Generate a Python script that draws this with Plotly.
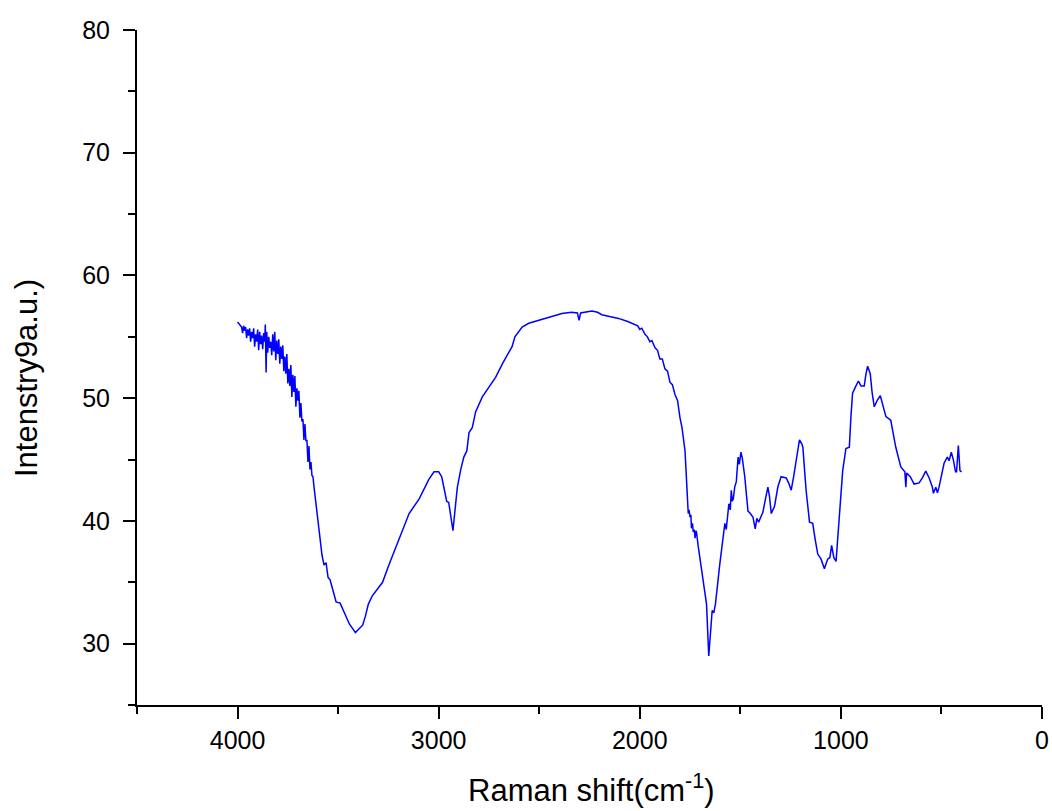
import plotly.graph_objects as go

# Raman shift (cm-1) and intensity values
shift = [4000, 3995, 3990, 3985, 3980, 3975, 3970, 3965, 3960, 3955, 3950, 3945, 3940, 3935,
         3930, 3925, 3920, 3915, 3910, 3905, 3900, 3895, 3890, 3885, 3880, 3875, 3870, 3865,
         3862, 3858, 3855, 3850, 3845, 3840, 3835, 3830, 3825, 3820, 3815, 3810, 3805, 3800,
         3795, 3790, 3785, 3780, 3775, 3770, 3765, 3760, 3755, 3750, 3745, 3740, 3735, 3730,
         3725, 3720, 3715, 3710, 3705, 3700, 3695, 3690, 3685, 3680, 3675, 3670, 3665, 3660,
         3655, 3650, 3645, 3640, 3635, 3630, 3625, 3620, 3615, 3610, 3605, 3600,
         3590, 3580, 3570, 3560, 3550, 3540, 3520, 3510, 3490, 3470, 3444, 3414, 3395, 3378,
         3365, 3350, 3330, 3312, 3279, 3250, 3213, 3180, 3147, 3097, 3048, 3023, 3000, 2985,
         2973, 2960, 2950, 2940, 2929, 2918, 2907, 2890, 2875, 2860, 2849, 2833, 2816, 2783,
         2750, 2717, 2680, 2635, 2621, 2600, 2585, 2552, 2510, 2469, 2420, 2387, 2340, 2310,
         2302, 2294, 2260, 2238, 2210, 2189, 2150, 2106, 2060, 2023, 2010, 2000, 1990, 1974,
         1962, 1950, 1940, 1924, 1912, 1900, 1888, 1875, 1862, 1850, 1838, 1825, 1812, 1800,
         1790, 1775, 1768, 1759, 1755, 1750, 1746, 1743, 1738, 1734, 1729, 1725, 1721, 1718,
         1710, 1701, 1685, 1668, 1657, 1648, 1640, 1632, 1624, 1602, 1577, 1570, 1565, 1557,
         1550, 1545, 1540, 1535, 1528, 1520, 1511, 1505, 1497, 1490, 1478, 1470, 1462, 1450,
         1437, 1426, 1418, 1409, 1398, 1388, 1375, 1363, 1355, 1346, 1330, 1313, 1297, 1272,
         1260, 1247, 1235, 1223, 1206, 1195, 1189, 1180, 1173, 1156, 1140, 1128, 1115, 1099,
         1082, 1070, 1065, 1055, 1046, 1035, 1024, 1008, 991, 975, 958, 950, 942, 925,
         913, 900, 884, 875, 867, 854, 845, 834, 820, 804, 790, 776, 752, 740,
         727, 702, 682, 677, 673, 655, 636, 611, 595, 578, 561, 545, 540, 528,
         520, 512, 496, 487, 471, 462, 451, 441, 430, 425, 416, 408, 400]
intensity = [56.2, 56.1, 56.0, 55.9, 55.8, 55.3, 55.9, 55.5, 55.8, 54.9, 55.6, 55.1, 55.7, 54.6,
             55.4, 54.9, 55.7, 54.2, 55.2, 54.6, 55.6, 53.9, 55.4, 54.4, 55.1, 54.0, 55.3, 54.6,
             56.0, 52.1, 55.4, 53.7, 55.0, 54.1, 54.6, 53.5, 55.2, 53.8, 55.4, 53.1, 54.7, 53.6,
             54.8, 52.8, 54.2, 53.2, 54.3, 52.2, 53.4, 52.0, 53.6, 51.2, 52.4, 51.0, 52.7, 50.1,
             51.9, 50.5, 51.8, 49.3, 50.8, 49.8, 50.6, 48.4, 49.6, 48.1, 48.3, 46.6, 47.9, 46.5,
             46.6, 44.8, 46.1, 44.2, 44.8, 43.7, 43.6, 42.8, 42.1, 41.2, 40.7, 39.9,
             38.8, 37.2, 36.4, 36.6, 35.4, 35.2, 34.0, 33.4, 33.3, 32.6, 31.6, 30.9, 31.2, 31.5,
             32.2, 33.2, 33.9, 34.3, 35.0, 36.3, 37.9, 39.3, 40.6, 41.8, 43.4, 44.0, 44.0, 43.6,
             42.5, 41.6, 41.5, 40.4, 39.2, 41.0, 42.75, 44.2, 45.2, 45.7, 47.2, 47.6, 48.9, 50.1,
             50.9, 51.7, 52.9, 54.2, 55.0, 55.5, 55.8, 56.1, 56.3, 56.5, 56.7, 56.9, 57.0, 56.95,
             56.35, 56.95, 57.05, 57.1, 57.0, 56.8, 56.65, 56.5, 56.25, 56.0, 55.9, 55.6, 55.7, 55.2,
             55.0, 54.6, 54.7, 54.1, 53.9, 53.2, 53.2, 52.4, 52.2, 51.3, 51.1, 50.3, 49.8, 48.4,
             47.6, 45.7, 43.6, 40.6, 40.9, 40.3, 40.5, 39.4, 39.8, 39.1, 39.3, 38.6, 39.2, 39.1,
             38.0, 37.0, 34.9, 33.2, 29.0, 31.5, 32.7, 32.5, 33.2, 36.5, 39.8, 39.3, 40.4, 41.4,
             40.9, 42.5, 41.6, 41.8, 42.75, 43.2, 45.2, 44.6, 45.6, 45.1, 43.6, 42.0, 40.8, 40.6,
             40.3, 39.35, 40.2, 39.9, 40.4, 40.7, 41.8, 42.75, 42.0, 40.6, 41.2, 42.8, 43.6, 43.5,
             43.1, 42.5, 43.6, 44.9, 46.6, 46.3, 46.0, 44.0, 42.5, 39.9, 39.8, 38.5, 37.3, 36.9,
             36.1, 36.7, 36.9, 37.0, 38.0, 37.0, 36.7, 40.3, 44.1, 45.9, 46.0, 48.5, 50.4, 51.0,
             51.4, 51.0, 51.0, 52.0, 52.6, 52.0, 50.5, 49.3, 49.8, 50.2, 49.3, 48.5, 48.2, 47.0,
             46.0, 44.4, 44.0, 42.75, 43.9, 43.6, 43.0, 43.1, 43.5, 44.05, 43.5, 42.75, 42.25, 42.75,
             42.3, 42.75, 44.1, 44.7, 45.2, 44.9, 45.6, 45.0, 44.0, 44.0, 46.15, 44.1, 44.0]

x_ticks = [4000, 3000, 2000, 1000, 0]
y_ticks = [30, 40, 50, 60, 70, 80]

fig = go.Figure()
fig.add_trace(go.Scatter(x=shift, y=intensity, mode="lines",
                         line=dict(color="#0000FF", width=1.5), showlegend=False))

font_family = "Liberation Sans, Arial, sans-serif"
L, R, T, B = 137, 10, 30, 106
W, H = 1052, 811
PW, PH = W - L - R, H - T - B
fig.update_layout(
    width=W, height=H,
    margin=dict(l=L, r=R, t=T, b=B, autoexpand=False),
    paper_bgcolor="white", plot_bgcolor="white",
    font=dict(family=font_family, color="black"),
)
fig.update_xaxes(
    range=[4500, 0], tickvals=x_ticks, ticktext=[str(v) for v in x_ticks],
    showgrid=False, zeroline=False, showline=True, linecolor="black", linewidth=2,
    ticks="outside", ticklen=12, tickwidth=2, tickcolor="black", automargin=False,
    minor=dict(dtick=500, tick0=0, ticks="outside", ticklen=7, tickwidth=2, tickcolor="black"),
    tickfont=dict(size=25),
)
fig.update_yaxes(
    range=[25, 80], tickvals=y_ticks, ticktext=[str(v) for v in y_ticks],
    showgrid=False, zeroline=False, showline=True, linecolor="black", linewidth=2,
    ticks="outside", ticklen=12, tickwidth=2, tickcolor="black", ticklabelstandoff=8,
    automargin=False,
    minor=dict(dtick=5, tick0=0, ticks="outside", ticklen=7, tickwidth=2, tickcolor="black"),
    tickfont=dict(size=25),
)
# small overhang of the bottom axis line to the left of the y axis
fig.add_shape(type="line", xref="paper", yref="paper",
              x0=(128 - L) / PW, x1=0, y0=0, y1=0,
              line=dict(color="black", width=2))
# axis titles placed as in the reference
fig.add_annotation(
    text="Raman shift(cm<sup>-1</sup>)", showarrow=False,
    xref="paper", yref="paper",
    x=(591 - L) / PW, y=(H - B - 810) / PH,
    xanchor="center", yanchor="bottom",
    font=dict(size=31, family=font_family, color="black"),
)
fig.add_annotation(
    text="Intenstry9a.u.)", textangle=-90, showarrow=False,
    xref="paper", yref="paper",
    x=(26 - L) / PW, y=(H - B - 378) / PH,
    xanchor="center", yanchor="middle",
    font=dict(size=31, family=font_family, color="black"),
)
fig.write_html("out.html")
